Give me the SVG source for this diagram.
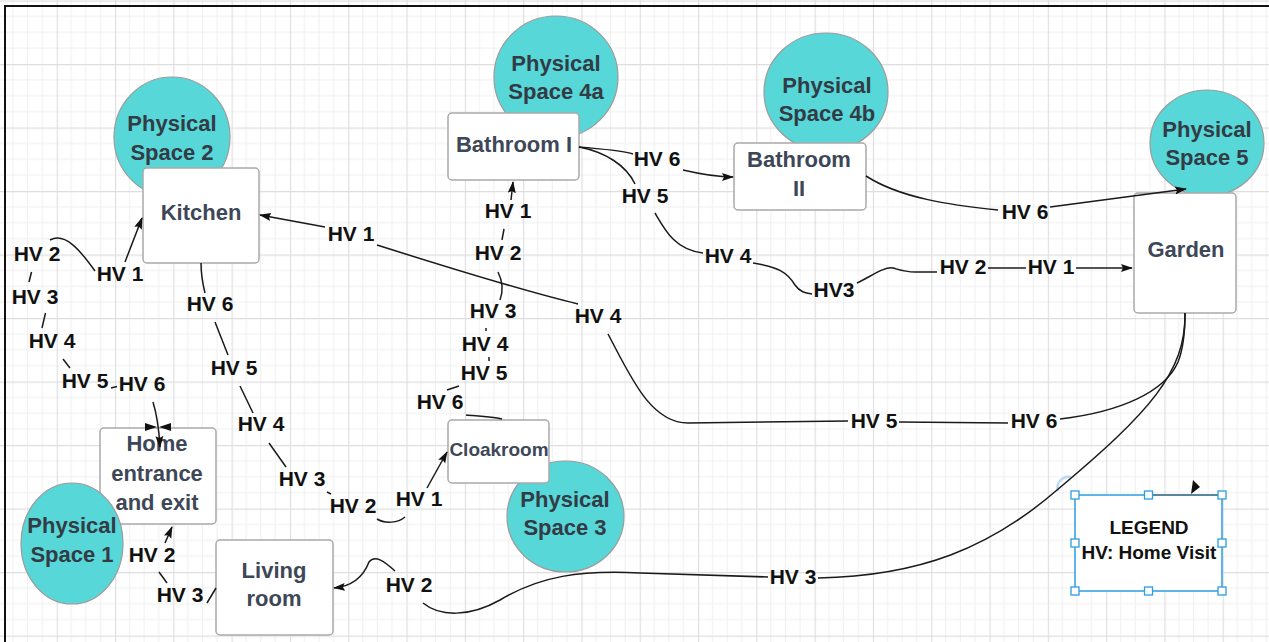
<svg xmlns="http://www.w3.org/2000/svg" width="1269" height="642" viewBox="0 0 1269 642">
<defs>
<style>
.box{fill:#fff;stroke:#a9a9a9;stroke-width:1.5}
.ps{fill:#57d7d8;stroke:#9b9b9b;stroke-width:1.2}
.nt{font-family:"Liberation Sans",Arial,sans-serif;font-weight:bold;font-size:22px;fill:#3d4757;text-anchor:middle}
.pt{font-family:"Liberation Sans",Arial,sans-serif;font-weight:bold;font-size:22px;fill:#333b45;text-anchor:middle}
.lbl{font-family:"Liberation Sans",Arial,sans-serif;font-weight:bold;font-size:21px;fill:#111;text-anchor:middle}
.lg{font-family:"Liberation Sans",Arial,sans-serif;font-weight:bold;font-size:19px;fill:#111;text-anchor:middle}
.c{fill:none;stroke:#1a1a1a;stroke-width:1.5}
.ca{fill:none;stroke:#1a1a1a;stroke-width:1.5;marker-end:url(#ah)}
.hd{fill:#fff;stroke:#2b9de0;stroke-width:1.3}
</style>
<pattern id="grid" patternUnits="userSpaceOnUse" x="56.7" y="64" width="58.3" height="63.5">
<g stroke="#efefef" stroke-width="1">
<line x1="14.575" y1="0" x2="14.575" y2="63.5"/>
<line x1="29.15" y1="0" x2="29.15" y2="63.5"/>
<line x1="43.725" y1="0" x2="43.725" y2="63.5"/>
<line x1="0" y1="15.875" x2="58.3" y2="15.875"/>
<line x1="0" y1="31.75" x2="58.3" y2="31.75"/>
<line x1="0" y1="47.625" x2="58.3" y2="47.625"/>
</g>
<g stroke="#dedede" stroke-width="1.3">
<line x1="0.5" y1="0" x2="0.5" y2="63.5"/>
<line x1="0" y1="0.5" x2="58.3" y2="0.5"/>
</g>
</pattern>
<marker id="ah" viewBox="0 0 12 10" refX="11" refY="5" markerWidth="12" markerHeight="10" orient="auto" markerUnits="userSpaceOnUse">
<path d="M0,1 L12,5 L0,9 L2,5 z" fill="#111"/>
</marker>
</defs>

<rect x="0" y="0" width="1269" height="642" fill="#fff"/>
<rect x="0" y="0" width="1269" height="642" fill="url(#grid)"/>
<path d="M5,642 L5,6 L1269,6" fill="none" stroke="#111" stroke-width="2"/>

<g id="physical-space-2"><ellipse class="ps" cx="172" cy="137" rx="58" ry="60"/><text class="pt" x="172" y="131">Physical</text><text class="pt" x="172" y="160">Space 2</text></g>
<g id="kitchen"><rect class="box" x="143" y="168" width="116" height="95" rx="4"/><text class="nt" x="201" y="220">Kitchen</text></g>

<g id="physical-space-4a"><ellipse class="ps" cx="556" cy="77" rx="62" ry="61"/><text class="pt" x="556" y="71">Physical</text><text class="pt" x="556" y="99">Space 4a</text></g>
<g id="bathroom-1"><rect class="box" x="448" y="113" width="131" height="67" rx="4"/><text class="nt" x="514" y="152">Bathroom I</text></g>

<g id="physical-space-4b"><ellipse class="ps" cx="826" cy="92" rx="62" ry="59"/><text class="pt" x="827" y="93">Physical</text><text class="pt" x="827" y="121">Space 4b</text></g>
<g id="bathroom-2"><rect class="box" x="734" y="143" width="132" height="67" rx="4"/><text class="nt" x="799" y="167">Bathroom</text><text class="nt" x="799" y="196">II</text></g>

<g id="physical-space-5"><ellipse class="ps" cx="1207" cy="143" rx="57" ry="53"/><text class="pt" x="1207" y="137">Physical</text><text class="pt" x="1207" y="165">Space 5</text></g>
<g id="garden"><rect class="box" x="1134" y="193" width="102" height="120" rx="4"/><text class="nt" x="1186" y="257">Garden</text></g>

<g id="physical-space-3"><ellipse class="ps" cx="565.5" cy="516.5" rx="58.5" ry="55.5"/><text class="pt" x="565" y="507">Physical</text><text class="pt" x="565" y="535">Space 3</text></g>
<g id="cloakroom"><rect class="box" x="448" y="420" width="101" height="63" rx="4"/><text class="nt" x="499" y="456" style="font-size:19px">Cloakroom</text></g>

<g id="home-entrance"><rect class="box" x="100" y="428" width="116" height="96" rx="4"/><text class="nt" x="157" y="451">Home</text><text class="nt" x="157" y="481">entrance</text><text class="nt" x="157" y="510">and exit</text></g>
<g id="physical-space-1"><ellipse class="ps" cx="72" cy="543.5" rx="51" ry="60.5"/><text class="pt" x="72" y="533">Physical</text><text class="pt" x="72" y="562">Space 1</text></g>

<g id="living-room"><rect class="box" x="216" y="540" width="117" height="95" rx="4"/><text class="nt" x="274" y="578">Living</text><text class="nt" x="274" y="606">room</text></g>

<g id="legend">
<rect x="1075" y="495" width="147" height="96" fill="#fff" stroke="#2b9de0" stroke-width="1.5"/>
<line x1="1150" y1="495" x2="1222" y2="495" stroke="#555" stroke-width="1"/>
<text class="lg" x="1149" y="534">LEGEND</text>
<text class="lg" x="1149" y="559">HV: Home Visit</text>
<rect class="hd" x="1071" y="491" width="8" height="8"/><rect class="hd" x="1144.5" y="491" width="8" height="8"/><rect class="hd" x="1218" y="491" width="8" height="8"/>
<rect class="hd" x="1071" y="539" width="8" height="8"/><rect class="hd" x="1218" y="539" width="8" height="8"/>
<rect class="hd" x="1071" y="587" width="8" height="8"/><rect class="hd" x="1144.5" y="587" width="8" height="8"/><rect class="hd" x="1218" y="587" width="8" height="8"/>
<path d="M1191,494 L1193,480 L1200,487 z" fill="#111"/>
<path d="M1058,491 A11,11 0 0 1 1071,477" fill="none" stroke="#bcd9f3" stroke-width="2.5"/>
</g>

<g id="connectors">
<!-- Home entrance to Kitchen chain -->
<path class="ca" d="M125,262 L142,218"/>
<path class="c" d="M50,240 C65,232 80,250 95,271"/>
<path class="c" d="M31.5,272 L29,282"/>
<path class="c" d="M45.5,313 L42,328"/>
<path class="c" d="M63,359 L70,368"/>
<path class="c" d="M111,388 L117,386.5"/>
<path class="ca" d="M153,402 C157,415 159,430 160,447"/>
<path d="M145,423 L157,427 L145,431 z M171,423 L159,427 L171,431 z" fill="#111"/>
<text class="lbl" x="37" y="261">HV 2</text>
<text class="lbl" x="120" y="281">HV 1</text>
<text class="lbl" x="35" y="304">HV 3</text>
<text class="lbl" x="52" y="348">HV 4</text>
<text class="lbl" x="85" y="388">HV 5</text>
<text class="lbl" x="142" y="391">HV 6</text>

<!-- Living room to Home entrance -->
<path class="ca" d="M165,543 L172,527"/>
<path class="c" d="M159,572 L167,583"/>
<path class="c" d="M207,603 L216,588"/>
<text class="lbl" x="152" y="562">HV 2</text>
<text class="lbl" x="180" y="602">HV 3</text>

<!-- Kitchen to Cloakroom -->
<path class="c" d="M201,263 C201,275 203,285 205,293"/>
<path class="c" d="M215,322 L228,355"/>
<path class="c" d="M240,386 L253,413"/>
<path class="c" d="M269,443 L286,467"/>
<path class="c" d="M327,492 L331,494"/>
<path class="c" d="M377,519 C385,524 398,523 405,517"/>
<path class="ca" d="M427,488 L447,452"/>
<text class="lbl" x="210" y="311">HV 6</text>
<text class="lbl" x="234" y="375">HV 5</text>
<text class="lbl" x="261" y="431">HV 4</text>
<text class="lbl" x="302" y="486">HV 3</text>
<text class="lbl" x="353" y="513">HV 2</text>
<text class="lbl" x="419" y="506">HV 1</text>

<!-- Cloakroom to Bathroom I -->
<path class="c" d="M502,419 C490,416 475,416 466,415"/>
<path class="c" d="M447,390 L459,386"/>
<path class="c" d="M489,357 L489,361"/>
<path class="c" d="M486,328 L486,331"/>
<path class="c" d="M498,272 C503,282 503,292 500,300"/>
<path class="c" d="M504,229 L502,240"/>
<path class="ca" d="M511,200 L513,182"/>
<text class="lbl" x="440" y="409">HV 6</text>
<text class="lbl" x="484" y="380">HV 5</text>
<text class="lbl" x="485" y="351">HV 4</text>
<text class="lbl" x="493" y="318">HV 3</text>
<text class="lbl" x="498" y="260">HV 2</text>
<text class="lbl" x="508" y="218">HV 1</text>

<!-- Garden to Kitchen long line -->
<path class="ca" d="M325,227 L260,215"/>
<path class="c" d="M377,245 C440,265 520,290 578,304"/>
<path class="c" d="M608,334 C630,375 650,423 688,423 L848,421"/>
<path class="c" d="M899,422 L1008,423"/>
<path class="c" d="M1060,419 C1120,412 1165,392 1178,362 C1184,347 1185,330 1185,313"/>
<text class="lbl" x="351" y="241">HV 1</text>
<text class="lbl" x="598" y="323">HV 4</text>
<text class="lbl" x="874" y="428">HV 5</text>
<text class="lbl" x="1034" y="428">HV 6</text>

<!-- Garden to Living room -->
<path class="c" d="M1185,313 C1186,372 1150,412 1057,490 C990,548 920,576 818,578"/>
<path class="c" d="M768,577 L640,573 C580,570 540,576 500,600 C470,617 440,617 423,603"/>
<path class="ca" d="M395,571 C385,562 375,554 369,562 C364,575 355,586 334,588"/>
<text class="lbl" x="793" y="584">HV 3</text>
<text class="lbl" x="409" y="592">HV 2</text>

<!-- Bathroom I to Bathroom II -->
<path class="c" d="M579,147 C600,149 620,150 633,154"/>
<path class="ca" d="M683,170 C700,174 715,177 733,177"/>
<text class="lbl" x="657" y="166">HV 6</text>

<!-- Bathroom I to Garden -->
<path class="c" d="M579,147 C605,152 626,165 635,184"/>
<path class="c" d="M655,213 C665,230 675,250 703,253"/>
<path class="c" d="M753,263 C778,267 787,272 795,285 C800,292 805,293 812,294"/>
<path class="c" d="M857,283 C870,277 885,266 893,268 C900,270 905,272 915,272 L937,272"/>
<path class="c" d="M988,268 L1026,268"/>
<path class="ca" d="M1076,268 L1132,268"/>
<text class="lbl" x="645" y="203">HV 5</text>
<text class="lbl" x="728" y="263">HV 4</text>
<text class="lbl" x="834" y="297">HV3</text>
<text class="lbl" x="963" y="274">HV 2</text>
<text class="lbl" x="1051" y="274">HV 1</text>

<!-- Bathroom II to Garden -->
<path class="c" d="M866,176 C900,198 950,205 998,210"/>
<path class="ca" d="M1050,207 L1186,189"/>
<text class="lbl" x="1025" y="219">HV 6</text>
</g>
</svg>
